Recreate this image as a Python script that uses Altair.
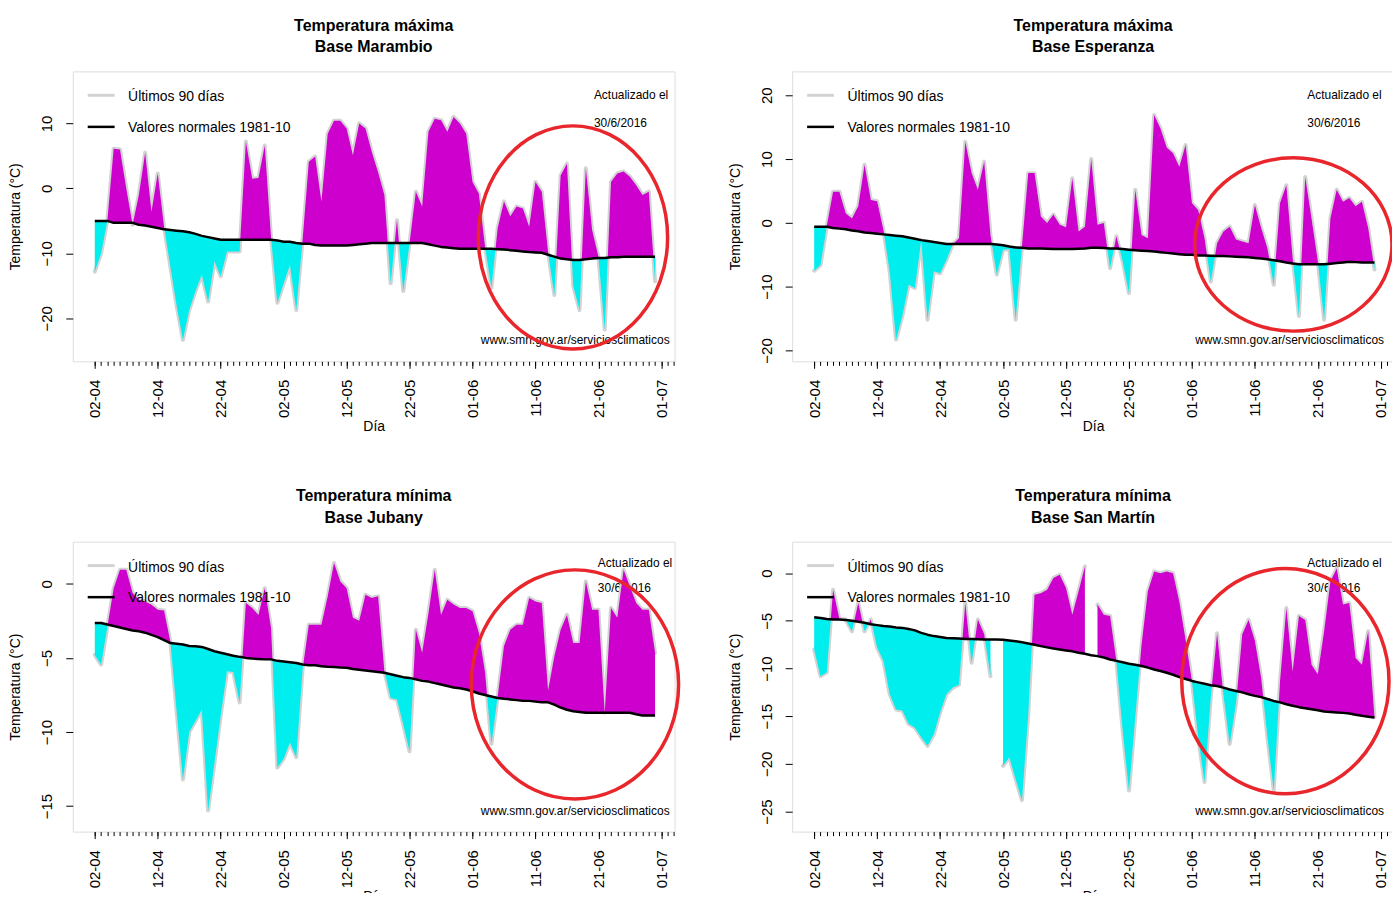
import altair as alt
import pandas as pd

# ---------------- data ----------------
START = "2016-04-02"
X_TITLE = "Día"
Y_TITLE = "Temperatura (°C)"
LEG_OBS = "Últimos 90 días"
LEG_NORM = "Valores normales 1981-10"
UPD_1 = "Actualizado el"
UPD_2 = "30/6/2016"
SOURCE = "www.smn.gov.ar/serviciosclimaticos"

marambio_title = ["Temperatura máxima", "Base Marambio"]
marambio_obs = [-12.8, -10.0, -4.9, 6.1, 6.0, 0.0, -5.6, -1.0, 5.5, -3.6,
                2.3, -5.9, -12.0, -18.0, -23.3, -18.7, -15.8, -13.3, -17.4, -11.2,
                -13.5, -9.7, -9.7, -9.7, 7.2, 1.5, 1.6, 6.6, -7.7, -17.6,
                -14.6, -11.8, -18.7, -8.0, 4.1, 4.9, -2.0, 8.4, 10.4, 10.4,
                9.2, 5.1, 10.0, 9.2, 5.6, 2.5, -1.0, -14.6, -4.9, -15.8,
                -8.4, -0.5, -2.8, 8.7, 10.7, 10.5, 8.7, 11.0, 10.0, 8.4,
                1.0, -0.8, -9.0, -15.3, -6.1, -2.0, -4.3, -2.8, -3.1, -5.9,
                1.0, -0.5, -9.8, -16.4, 2.0, 3.8, -15.0, -18.7, 3.1, -6.4,
                -10.5, -21.7, 1.0, 2.3, 2.6, 1.8, 0.5, -1.0, -0.5, -14.3]
marambio_norm = [-5.0, -5.0, -5.0, -5.3, -5.3, -5.3, -5.3, -5.6, -5.7, -5.9,
                 -6.1, -6.3, -6.4, -6.5, -6.6, -6.75, -7.0, -7.3, -7.5, -7.7,
                 -7.9, -7.9, -7.9, -7.9, -7.9, -7.9, -7.9, -7.9, -7.9, -8.0,
                 -8.2, -8.2, -8.4, -8.5, -8.5, -8.7, -8.8, -8.8, -8.8, -8.8,
                 -8.8, -8.7, -8.6, -8.5, -8.4, -8.4, -8.4, -8.4, -8.4, -8.4,
                 -8.4, -8.4, -8.4, -8.6, -8.8, -9.0, -9.1, -9.2, -9.3, -9.3,
                 -9.3, -9.3, -9.3, -9.3, -9.35, -9.4, -9.5, -9.6, -9.7, -9.8,
                 -9.85, -9.9, -10.2, -10.5, -10.8, -10.9, -11.0, -11.0, -10.9, -10.8,
                 -10.7, -10.7, -10.6, -10.6, -10.5, -10.5, -10.5, -10.5, -10.5, -10.5]

esperanza_title = ["Temperatura máxima", "Base Esperanza"]
esperanza_obs = [-7.5, -6.6, -0.5, 4.9, 4.9, 1.5, 0.7, 2.6, 9.1, 3.6,
                 3.4, -1.1, -7.7, -18.3, -14.6, -9.7, -10.2, -2.7, -15.2, -7.6,
                 -7.9, -5.8, -3.4, -2.4, 12.7, 7.8, 5.2, 9.6, -1.9, -8.1,
                 -4.2, -4.1, -15.2, -3.7, 7.8, 7.8, 1.0, 0.0, 1.3, -0.3,
                 -0.7, 7.0, -1.35, -0.6, 10.0, -0.3, 0.0, -7.1, -2.1, -6.0,
                 -11.0, 5.2, -1.9, -2.4, 16.9, 14.8, 11.8, 10.9, 8.8, 12.2,
                 3.1, 2.0, -2.4, -9.2, -3.2, -1.35, -0.6, -2.6, -2.9, -3.2,
                 2.8, -0.8, -4.0, -9.7, 3.1, 5.9, -5.5, -14.6, 7.2, 0.7,
                 -6.0, -15.2, 0.7, 5.2, 3.3, 3.9, 2.6, 3.3, -0.8, -7.3]
esperanza_norm = [-0.6, -0.6, -0.6, -0.8, -0.9, -1.0, -1.2, -1.3, -1.5, -1.6,
                  -1.7, -1.8, -1.9, -2.0, -2.1, -2.3, -2.5, -2.7, -2.85, -3.0,
                  -3.15, -3.3, -3.3, -3.3, -3.3, -3.3, -3.3, -3.3, -3.3, -3.4,
                  -3.5, -3.7, -3.85, -3.9, -4.0, -4.0, -4.0, -4.05, -4.1, -4.1,
                  -4.1, -4.1, -4.05, -4.0, -3.9, -3.9, -3.95, -4.0, -4.0, -4.1,
                  -4.2, -4.3, -4.35, -4.4, -4.5, -4.6, -4.7, -4.8, -4.9, -5.0,
                  -5.0, -5.1, -5.1, -5.15, -5.2, -5.2, -5.25, -5.3, -5.35, -5.4,
                  -5.5, -5.6, -5.7, -5.85, -6.0, -6.2, -6.35, -6.5, -6.5, -6.5,
                  -6.5, -6.5, -6.4, -6.3, -6.2, -6.1, -6.15, -6.2, -6.2, -6.2]

jubany_title = ["Temperatura mínima", "Base Jubany"]
jubany_obs = [-4.8, -5.45, -2.9, -0.3, 0.94, 0.94, -0.63, -1.08, -1.19, -1.41,
              -1.75, -1.8, -3.9, -8.6, -13.2, -10.0, -9.26, -8.5, -15.3, -12.1,
              -8.9, -5.9, -5.96, -8.0, -1.3, -1.64, -2.1, -0.3, -3.0, -12.4,
              -11.8, -10.7, -11.7, -5.8, -2.76, -2.76, -2.76, -0.85, 1.4, 0.16,
              -0.3, -2.3, -2.5, -0.74, -0.96, -0.85, -5.9, -7.7, -7.8, -9.5,
              -11.3, -3.1, -4.66, -2.0, 0.94, -2.1, -1.08, -1.4, -1.64, -1.64,
              -1.86, -3.3, -6.0, -10.8, -7.6, -4.2, -3.1, -2.76, -2.76, -0.96,
              -1.19, -1.3, -7.2, -4.9, -3.1, -2.1, -4.0, -4.0, 0.16, -1.75,
              -1.75, -8.7, -1.64, -2.3, 0.94, -0.18, -1.3, -1.75, -1.75, -4.66]
jubany_norm = [-2.65, -2.65, -2.75, -2.85, -2.95, -3.05, -3.15, -3.2, -3.3, -3.45,
               -3.6, -3.8, -4.0, -4.05, -4.1, -4.2, -4.22, -4.26, -4.4, -4.55,
               -4.65, -4.75, -4.85, -4.93, -5.0, -5.05, -5.07, -5.1, -5.1, -5.2,
               -5.25, -5.3, -5.35, -5.45, -5.5, -5.5, -5.56, -5.6, -5.62, -5.65,
               -5.67, -5.75, -5.8, -5.85, -5.9, -5.95, -6.0, -6.1, -6.2, -6.3,
               -6.35, -6.45, -6.55, -6.6, -6.7, -6.8, -6.9, -7.0, -7.05, -7.13,
               -7.25, -7.4, -7.5, -7.6, -7.7, -7.76, -7.8, -7.85, -7.9, -7.9,
               -7.95, -8.0, -8.0, -8.15, -8.35, -8.5, -8.6, -8.65, -8.7, -8.7,
               -8.7, -8.7, -8.7, -8.7, -8.7, -8.7, -8.8, -8.88, -8.88, -8.88]

sanmartin_title = ["Temperatura mínima", "Base San Martín"]
sanmartin_obs = [-8.0, -10.8, -10.4, -1.74, -4.77, -4.87, -6.1, -3.13, -6.1, -4.87,
                 -7.8, -9.2, -12.7, -14.3, -14.4, -15.8, -16.2, -17.2, -18.1, -16.9,
                 -14.6, -12.7, -12.0, -11.7, -3.13, -9.4, -4.87, -6.4, -10.8, None,
                 -20.2, -19.3, -21.6, -23.8, -14.8, -2.26, -2.1, -1.74, -0.52, -0.17,
                 -1.57, -4.35, -1.9, 0.7, None, -3.3, -4.35, -4.5, -9.2, -16.5,
                 -22.8, -15.1, -7.5, -1.9, 0.17, 0.0, 0.17, 0.0, -3.0, -7.0,
                 -11.3, -17.2, -21.9, -13.0, -6.3, -12.7, -17.9, -13.7, -6.4, -4.9,
                 -7.1, -11.0, -17.2, -22.8, -11.3, -3.65, -10.3, -4.5, -4.9, -9.6,
                 -10.6, -6.1, -0.87, 0.5, -3.3, -3.13, -8.9, -9.6, -6.1, -15.1]
sanmartin_norm = [-4.63, -4.7, -4.8, -4.87, -4.87, -4.9, -5.0, -5.1, -5.2, -5.35,
                  -5.45, -5.55, -5.6, -5.7, -5.74, -5.85, -6.0, -6.26, -6.45, -6.6,
                  -6.7, -6.8, -6.82, -6.85, -6.9, -6.9, -6.93, -6.96, -6.96, -6.96,
                  -6.98, -7.05, -7.13, -7.25, -7.38, -7.5, -7.65, -7.78, -7.9, -8.0,
                  -8.1, -8.2, -8.35, -8.45, -8.6, -8.7, -8.85, -9.05, -9.2, -9.35,
                  -9.5, -9.6, -9.74, -9.9, -10.1, -10.26, -10.45, -10.65, -10.9, -11.1,
                  -11.3, -11.45, -11.6, -11.75, -11.83, -12.0, -12.2, -12.35, -12.5, -12.7,
                  -12.87, -13.0, -13.2, -13.4, -13.55, -13.74, -13.9, -14.05, -14.16, -14.27,
                  -14.38, -14.5, -14.55, -14.6, -14.65, -14.72, -14.85, -14.96, -15.05, -15.14]

y_domains = [[-26.6, 18.0], [-21.7, 23.75], [-16.72, 2.84], [-27.1, 3.3]]
y_ticks = [[-20, -10, 0, 10], [-20, -10, 0, 10, 20], [-15, -10, -5, 0],
           [-25, -20, -15, -10, -5, 0]]
major_tick_days = [0, 10, 20, 30, 40, 50, 60, 70, 80, 90]
minor_tick_days = list(range(0, 93))
x_domain_days = [-3.5, 92.1]

# ---------------- style ----------------
F = "Liberation Sans"
MAG = "#CD00CD"
CYA = "#00EEEE"
GRAY = "#D3D3D3"
RED = "#E8262B"
FRAME = "#222222"
W, H = 604, 291

base = pd.Timestamp(START)


def iso(d):
    t = base + pd.to_timedelta(d, unit="D")
    return t.strftime("%Y-%m-%dT%H:%M:%S.%f")[:-3] + "Z"


def ms(d):
    t = pd.Timestamp(START, tz="UTC") + pd.to_timedelta(d, unit="D")
    return int(t.value // 10**6)


def build_fill(obs, norm):
    rows = []
    seg = 0
    prev = None
    for i, (o, n) in enumerate(zip(obs, norm)):
        if o is None:
            seg += 1
            prev = None
            continue
        if prev is not None:
            j, po, pn = prev
            d0, d1 = po - pn, o - n
            if d0 * d1 < 0:
                t = d0 / (d0 - d1)
                nc = pn + t * (n - pn)
                rows.append({"dia": iso(j + t), "obs": nc, "norm": nc, "seg": seg})
        rows.append({"dia": iso(i), "obs": o, "norm": n, "seg": seg})
        prev = (i, o, n)
    return pd.DataFrame(rows)


def one():
    return alt.Chart(pd.DataFrame({"k": [0]}))


def ellipse_path(rx, ry):
    m = max(rx, ry)
    a, b = rx / m, ry / m
    k = 0.5523
    return (f"M 0 {-b} C {k*a} {-b} {a} {-k*b} {a} 0 "
            f"C {a} {k*b} {k*a} {b} 0 {b} "
            f"C {-k*a} {b} {-a} {k*b} {-a} 0 "
            f"C {-a} {-k*b} {-k*a} {-b} 0 {-b} Z"), (2 * m) ** 2


def panel(title, obs, norm, ydom, yt, ell, top_row, right_col):
    fill = build_fill(obs, norm)
    ndf = pd.DataFrame({"dia": [iso(i) for i in range(len(norm))], "norm": norm})

    xscale = alt.Scale(type="utc", domain=[ms(x_domain_days[0]), ms(x_domain_days[1])], nice=False)
    yscale = alt.Scale(domain=ydom, nice=False, zero=False)

    major_axis = alt.Axis(orient="bottom", values=[ms(d) for d in major_tick_days],
                          labelExpr="utcFormat(datum.value, '%d-%m')",
                          labelAngle=-90, labelAlign="right", labelBaseline="middle",
                          labelFontSize=15, labelPadding=11, tickSize=7, tickColor="black",
                          domain=False, grid=False, title=X_TITLE, titleFontSize=14,
                          titleFontWeight="normal", titlePadding=2,
                          labelFont=F, titleFont=F, labelColor="black", titleColor="black")
    minor_axis = alt.Axis(orient="bottom", values=[ms(d) for d in minor_tick_days], labels=False,
                          tickSize=4, tickColor="black", domain=False, grid=False, title=None)
    yaxis = alt.Axis(orient="left", values=yt, labelAngle=-90, labelAlign="center",
                     labelBaseline="bottom",
                     labelFontSize=15, labelPadding=11, tickSize=7, tickColor="black",
                     domain=False, grid=False, title=Y_TITLE, titleFontSize=14,
                     titleFontWeight="normal", titlePadding=17, labelFont=F, titleFont=F,
                     labelColor="black", titleColor="black")

    ty = 24 if top_row else 21.5
    ty2 = 51.7 if top_row else 47
    if right_col:
        ux = 517
        sx = 594
    else:
        ux = 523 if top_row else 527
        sx = W - 5

    def txt(s, x, y, size, align="left"):
        return one().mark_text(text=s, font=F, fontSize=size, align=align, baseline="middle",
                               color="black").encode(x=alt.value(x), y=alt.value(y))

    leg_gray = one().mark_rule(color=GRAY, strokeWidth=3).encode(
        x=alt.value(15), x2=alt.value(42), y=alt.value(24))
    leg_black = one().mark_rule(color="black", strokeWidth=2.5).encode(
        x=alt.value(15), x2=alt.value(42), y=alt.value(55.7))

    notes = [txt(UPD_1, ux, ty, 12), txt(UPD_2, ux, ty2, 12),
             txt(SOURCE, sx, H - 21, 12, "right")]
    legend = [leg_gray, leg_black, txt(LEG_OBS, 55.5, 26, 14), txt(LEG_NORM, 55.5, 57, 14)]

    gray = alt.Chart(fill).mark_line(color=GRAY, strokeWidth=4, strokeJoin="round",
                                     strokeCap="round").encode(
        x=alt.X("dia:T", scale=xscale, axis=minor_axis),
        y=alt.Y("obs:Q", scale=yscale, axis=yaxis),
        detail="seg:N")
    mag = alt.Chart(fill).transform_calculate(hi="max(datum.obs, datum.norm)").mark_area(
        color=MAG, opacity=1).encode(
        x=alt.X("dia:T", scale=xscale, axis=None),
        y=alt.Y("hi:Q", scale=yscale, axis=yaxis),
        y2="norm:Q", detail="seg:N")
    cya = alt.Chart(fill).transform_calculate(lo="min(datum.obs, datum.norm)").mark_area(
        color=CYA, opacity=1).encode(
        x=alt.X("dia:T", scale=xscale, axis=None),
        y=alt.Y("lo:Q", scale=yscale, axis=yaxis),
        y2="norm:Q", detail="seg:N")
    blk = alt.Chart(ndf).mark_line(color="black", strokeWidth=2.5, strokeJoin="round").encode(
        x=alt.X("dia:T", scale=xscale, axis=major_axis),
        y=alt.Y("norm:Q", scale=yscale, axis=yaxis))

    path, size = ellipse_path(ell[2], ell[3])
    circ = one().mark_point(shape=path, size=size, filled=False, color=RED, strokeWidth=3.5,
                            opacity=1).encode(x=alt.value(ell[0]), y=alt.value(ell[1]))

    return alt.layer(*notes, gray, mag, cya, blk, *legend, circ).resolve_axis(
        x="independent").properties(
        width=W, height=H,
        title=alt.TitleParams(text=title, fontSize=16, font=F, fontWeight="bold",
                              anchor="middle", frame="group", offset=16, lineHeight=22,
                              color="black"))


p1 = panel(marambio_title, marambio_obs, marambio_norm, y_domains[0], y_ticks[0],
           (502, 166.7, 95, 112), True, False)
p2 = panel(esperanza_title, esperanza_obs, esperanza_norm, y_domains[1], y_ticks[1],
           (503, 173.7, 99, 87), True, True)
p3 = panel(jubany_title, jubany_obs, jubany_norm, y_domains[2], y_ticks[2],
           (504, 143.3, 104, 115), False, False)
p4 = panel(sanmartin_title, sanmartin_obs, sanmartin_norm, y_domains[3], y_ticks[3],
           (495, 140, 104, 113), False, True)

chart = alt.concat(p1, p2, p3, p4, columns=2, spacing={"row": 181, "column": 118},
                   bounds="flush",
                   padding={"left": 0, "top": 7, "right": -8, "bottom": -13}).configure_view(
    stroke=FRAME, strokeWidth=1).configure(background="white")

chart.save("out.html", embed_options={"renderer": "svg", "actions": False})
